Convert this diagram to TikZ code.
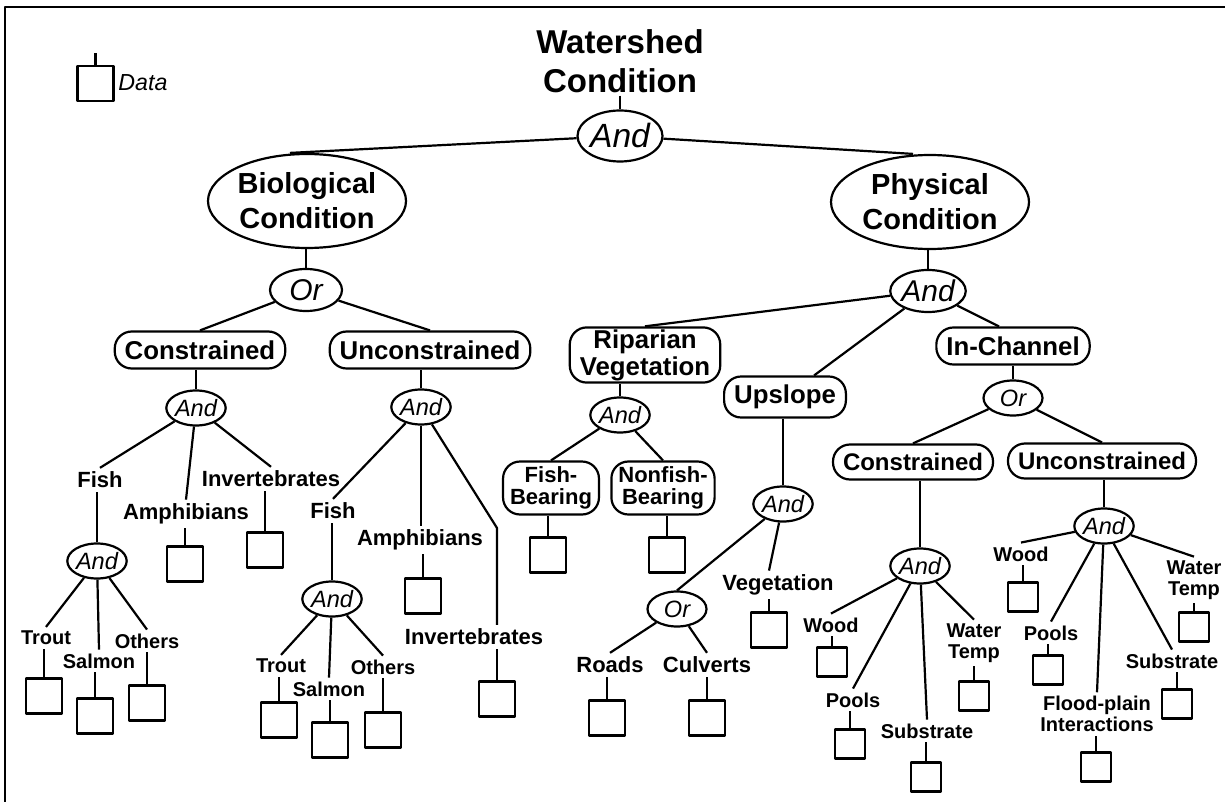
\documentclass[tikz,border=0pt]{standalone}
\usepackage{fontspec}
\setmainfont{Liberation Sans}
\usetikzlibrary{shapes.geometric}

\begin{document}
\begin{tikzpicture}[x=0.5pt,y=-0.5pt,line width=1.1pt,line join=round,
    title/.style={font=\bfseries\fontsize{16.5}{19.5}\selectfont,align=center,inner sep=1pt},
    cond/.style={draw,ellipse,inner sep=0pt,minimum width=99pt,minimum height=47pt,align=center,
      font=\bfseries\fontsize{14.5}{17.5}\selectfont},
    gate/.style={draw,ellipse,inner sep=0pt,minimum width=29.5pt,minimum height=17.5pt,
      font=\itshape\fontsize{11.8}{14}\selectfont},
    midgate/.style={gate,minimum width=36pt,minimum height=21pt,font=\itshape\fontsize{15}{18}\selectfont},
    topgate/.style={gate,minimum width=42.5pt,minimum height=25.5pt,font=\itshape\fontsize{16.8}{20}\selectfont},
    group/.style={draw,rounded corners=8.5pt,inner xsep=5pt,inner ysep=1pt,minimum height=18.5pt,
      align=center,font=\bfseries\fontsize{12.9}{13.5}\selectfont},
    sgroup/.style={group,minimum height=17.5pt,font=\bfseries\fontsize{12}{12.5}\selectfont},
    fgroup/.style={group,inner xsep=3.5pt,minimum height=26.5pt,font=\bfseries\fontsize{11}{10.8}\selectfont},
    cat/.style={inner sep=1.5pt,align=center,font=\bfseries\fontsize{11}{11}\selectfont},
    leaf/.style={inner sep=1.5pt,align=center,font=\bfseries\fontsize{10}{10.3}\selectfont},
    data/.style={draw,inner sep=0pt,minimum width=18pt,minimum height=17.5pt},
    sdata/.style={data,minimum width=15pt,minimum height=14.5pt}]
  \useasboundingbox (0,0) rectangle (1225,802);
  \draw[line width=0.9pt] (5,802) -- (5,7) -- (1225,7);

  \coordinate (legtop) at (95.5,53);
  \path
    (95.5,83.5) node[data] (legbox) {}
    (143,83) node[font=\itshape\fontsize{11.6}{14}\selectfont] (legtxt) {Data};

  \path
    (620,61) node[title] (ws) {Watershed\\Condition}
    (620,136) node[topgate] (tand) {And}
    (307,201) node[cond] (bio) {Biological\\Condition}
    (930,202) node[cond] (phys) {Physical\\Condition}
    (306,290) node[midgate] (bor) {Or}
    (928,291) node[midgate] (pand) {And};

  \path
    (200,350) node[group] (bcon) {Constrained}
    (430,350) node[group] (bucon) {Unconstrained}
    (196,408) node[gate] (bcand) {And}
    (421,407) node[gate] (buand) {And};

  \path
    (100,480) node[cat] (cfish) {Fish}
    (186,514) node[cat] (camph) {Amphibians}
    (271,479) node[cat] (cinv) {Invertebrates}
    (97,561) node[gate] (cfand) {And}
    (46,638) node[leaf] (ctrout) {Trout}
    (99,661) node[leaf] (csalmon) {Salmon}
    (147,641) node[leaf] (cothers) {Others}
    (44,696) node[data] (ctroutd) {}
    (95,716) node[data] (csalmond) {}
    (147,703) node[data] (cothersd) {}
    (185,564) node[data] (camphd) {}
    (265,550) node[data] (cinvd) {};

  \coordinate (ubend) at (497,528);
  \path
    (333,511) node[cat] (ufish) {Fish}
    (420,540) node[cat] (uamph) {Amphibians}
    (474,637) node[cat] (uinv) {Invertebrates}
    (332,599) node[gate] (ufand) {And}
    (281,666) node[leaf] (utrout) {Trout}
    (329,689) node[leaf] (usalmon) {Salmon}
    (383,667) node[leaf] (uothers) {Others}
    (279,720) node[data] (utroutd) {}
    (330,740) node[data] (usalmond) {}
    (383,730) node[data] (uothersd) {}
    (423,596) node[data] (uamphd) {}
    (497,699) node[data] (uinvd) {};

  \path
    (645,355) node[group] (rip) {Riparian\\Vegetation}
    (785,397) node[group,minimum height=20.5pt] (up) {Upslope}
    (1013,346) node[group] (inch) {In-Channel}
    (620,415) node[gate] (rand) {And}
    (551,488) node[fgroup] (rfish) {Fish-\\Bearing}
    (663,488) node[fgroup] (rnon) {Nonfish-\\Bearing}
    (548,555) node[data] (rfishd) {}
    (667,555) node[data] (rnond) {};

  \path
    (783,504) node[gate] (uand) {And}
    (677,609) node[gate] (uor) {Or}
    (778,585) node[cat] (uveg) {Vegetation}
    (769,630) node[data] (uvegd) {}
    (610,665) node[cat] (roads) {Roads}
    (707,665) node[cat] (culv) {Culverts}
    (607,718) node[data] (roadsd) {}
    (707,718) node[data] (culvd) {};

  \path
    (1013,398) node[gate] (ior) {Or}
    (913,462) node[sgroup] (icon) {Constrained}
    (1102,461) node[sgroup] (iucon) {Unconstrained}
    (920,566) node[gate] (icand) {And}
    (1104,526) node[gate] (iuand) {And};

  \path
    (831,625) node[leaf] (iwood) {Wood}
    (853,700) node[leaf] (ipools) {Pools}
    (927,731) node[leaf] (isub) {Substrate}
    (974,643) node[leaf] (iwt) {Water\\Temp}
    (832,662) node[sdata] (iwoodd) {}
    (850,744) node[sdata] (ipoolsd) {}
    (926,777) node[sdata] (isubd) {}
    (974,696) node[sdata] (iwtd) {};

  \path
    (1021,554) node[leaf] (jwood) {Wood}
    (1051,633) node[leaf] (jpools) {Pools}
    (1097,714) node[leaf] (jflood) {Flood-plain\\Interactions}
    (1172,661) node[leaf] (jsub) {Substrate}
    (1194,580) node[leaf] (jwt) {Water\\Temp}
    (1023,597) node[sdata] (jwoodd) {}
    (1048,670) node[sdata] (jpoolsd) {}
    (1096,767) node[sdata] (jfloodd) {}
    (1177,704) node[sdata] (jsubd) {}
    (1194,627) node[sdata] (jwtd) {};

  \begin{scope}[-]
    \draw (legbox) to (legtop);
    \draw (ws) to (tand);
    \draw (tand) to ([xshift=-8.5pt]bio.north);
    \draw (tand) to ([xshift=-8.5pt]phys.north);
    \draw (bor) to (bor |- bio.south);
    \draw (pand) to (pand |- phys.south);
    \draw (bor) to (bcon.north);
    \draw (bor) to (bucon.north);
    \draw (bcand) to (bcand |- bcon.south);
    \draw (buand) to (buand |- bucon.south);
    \draw (bcand) to (cfish.north);
    \draw (bcand) to (camph.north);
    \draw (bcand) to (cinv.north);
    \draw (cfand) to (cfand |- cfish.south);
    \draw (cfand) to (ctrout.north);
    \draw (cfand) to (csalmon.north);
    \draw (cfand) to (cothers.north);
    \draw (ctroutd) to (ctroutd |- ctrout.south);
    \draw (csalmond) to (csalmond |- csalmon.south);
    \draw (cothersd) to (cothersd |- cothers.south);
    \draw (camphd) to (camphd |- camph.south);
    \draw (cinvd) to (cinvd |- cinv.south);
    \draw (buand) to (ufish.north);
    \draw (buand) to (buand |- uamph.north);
    \draw (buand) -- (ubend) -- (ubend |- uinv.north);
    \draw (ufand) to (ufand |- ufish.south);
    \draw (ufand) to (utrout.north);
    \draw (ufand) to (usalmon.north);
    \draw (ufand) to (uothers.north);
    \draw (utroutd) to (utroutd |- utrout.south);
    \draw (usalmond) to (usalmond |- usalmon.south);
    \draw (uothersd) to (uothersd |- uothers.south);
    \draw (uamphd) to (uamphd |- uamph.south);
    \draw (uinvd) to (uinvd |- uinv.south);
    \draw (pand) to (rip.north);
    \draw (pand) to (up);
    \draw (pand) to ([xshift=-7pt]inch.north);
    \draw (rand) to (rand |- rip.south);
    \draw (rand) to (rfish.north);
    \draw (rand) to (rnon.north);
    \draw (rfishd) to (rfishd |- rfish.south);
    \draw (rnond) to (rnond |- rnon.south);
    \draw (uand) to (uand |- up.south);
    \draw (uand) to (uor.north);
    \draw (uand) to (uvegd |- uveg.north);
    \draw (uvegd) to (uvegd |- uveg.south);
    \draw (uor) to (roads.north);
    \draw (uor) to (culv.north);
    \draw (roadsd) to (roadsd |- roads.south);
    \draw (culvd) to (culvd |- culv.south);
    \draw (ior) to (inch);
    \draw (ior) to (icon.north);
    \draw (ior) to (iucon.north);
    \draw (icand) to (icand |- icon.south);
    \draw (iuand) to (iuand |- iucon.south);
    \draw (icand) to (iwood.north);
    \draw (icand) to (ipools.north);
    \draw (icand) to (isub.north);
    \draw (icand) to (iwt.north);
    \draw (iwoodd) to (iwoodd |- iwood.south);
    \draw (ipoolsd) to (ipoolsd |- ipools.south);
    \draw (isubd) to (isubd |- isub.south);
    \draw (iwtd) to (iwtd |- iwt.south);
    \draw (iuand) to (jwood.north);
    \draw (iuand) to (jpools.north);
    \draw (iuand) to (jflood.north);
    \draw (iuand) to (jsub.north);
    \draw (iuand) to (jwt.north);
    \draw (jwoodd) to (jwoodd |- jwood.south);
    \draw (jpoolsd) to (jpoolsd |- jpools.south);
    \draw (jfloodd) to (jfloodd |- jflood.south);
    \draw (jsubd) to (jsubd |- jsub.south);
    \draw (jwtd) to (jwtd |- jwt.south);
  \end{scope}
\end{tikzpicture}
\end{document}
